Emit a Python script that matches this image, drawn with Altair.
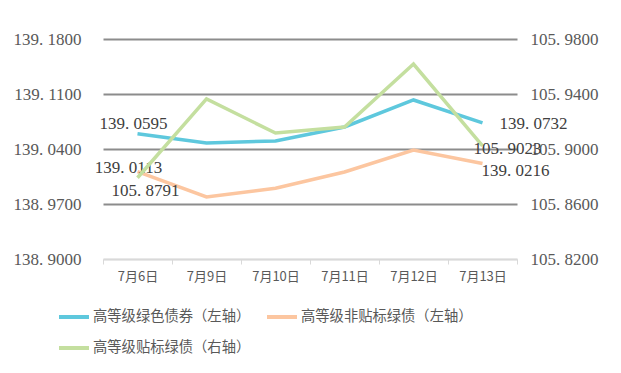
import altair as alt
import pandas as pd

dates = ["7月6日", "7月9日", "7月10日", "7月11日", "7月12日", "7月13日"]
series_names = ["高等级绿色债券（左轴）", "高等级非贴标绿债（左轴）", "高等级贴标绿债（右轴）"]
blue_vals = [139.0595, 139.0476, 139.0502, 139.0680, 139.1024, 139.0732]
orange_vals = [139.0113, 138.9790, 138.9900, 139.0107, 139.0387, 139.0216]
green_vals = [105.8791, 105.9364, 105.9116, 105.9160, 105.9618, 105.9023]
left_ticks = [138.90, 138.97, 139.04, 139.11, 139.18]
right_ticks = [105.82, 105.86, 105.90, 105.94, 105.98]
colors = ["#5ec8dd", "#fcc6a0", "#c4df9f"]

rows = []
for name, vals in zip(series_names, [blue_vals, orange_vals, green_vals]):
    for d, v in zip(dates, vals):
        rows.append({"date": d, "series": name, "value": v})
df = pd.DataFrame(rows)
left_df = df[df.series != series_names[2]]
right_df = df[df.series == series_names[2]]

SERIF = "Liberation Serif"
CJK = "Noto Sans CJK SC"
FS = 17
lab_expr = "replace(format(datum.value, '.4f'), '.', '. ')"

x_enc = alt.X("date:N", sort=dates, title=None,
              scale=alt.Scale(paddingInner=0, paddingOuter=0),
              axis=alt.Axis(labelAngle=0, labelFont=CJK, labelFontSize=13, labelColor="#595959",
                            domainColor="#d9d9d9", domainWidth=1.5, tickColor="#d9d9d9",
                            tickBand="extent", tickSize=5, labelPadding=6))
color_enc = alt.Color("series:N", title=None,
                      scale=alt.Scale(domain=series_names, range=colors),
                      legend=alt.Legend(orient="none", legendX=-46, legendY=261, columns=2,
                                        direction="horizontal",
                                        columnPadding=8, rowPadding=6, labelOffset=2,
                                        symbolType="stroke", symbolSize=900, symbolStrokeWidth=4,
                                        labelFont=CJK, labelFontSize=14.3, labelColor="#595959",
                                        labelLimit=300))

left_scale = alt.Scale(domain=[138.90, 139.18], nice=False, zero=False)
right_scale = alt.Scale(domain=[105.82, 105.98], nice=False, zero=False)

left_line = alt.Chart(left_df).mark_line(strokeWidth=3.5).encode(
    x=x_enc,
    y=alt.Y("value:Q", scale=left_scale, title=None,
            axis=alt.Axis(values=left_ticks, labelExpr=lab_expr, labelFont=SERIF, labelFontSize=FS,
                          labelColor="#595959", domain=False, ticks=False, labelPadding=22,
                          gridColor={"condition": {"test": "datum.value < 138.91", "value": "#d9d9d9"},
                                     "value": "#8c8c8c"},
                          gridWidth=2)),
    color=color_enc,
)

right_line = alt.Chart(right_df).mark_line(strokeWidth=3.5).encode(
    x=x_enc,
    y=alt.Y("value:Q", scale=right_scale, title=None,
            axis=alt.Axis(orient="right", values=right_ticks, labelExpr=lab_expr, labelFont=SERIF,
                          labelFontSize=FS, labelColor="#595959", domain=False, ticks=False,
                          grid=False, labelPadding=13)),
    color=color_enc,
)


def lbl(data, name, date, dx, dy, align, scale):
    return alt.Chart(data).transform_filter(
        (alt.datum.series == name) & (alt.datum.date == date)
    ).transform_calculate(
        txt="replace(format(datum.value, '.4f'), '.', '. ')"
    ).mark_text(font=SERIF, fontSize=FS, color="#404040", align=align, baseline="middle",
                dx=dx, dy=dy).encode(
        x=alt.X("date:N", sort=dates),
        y=alt.Y("value:Q", scale=scale),
        text="txt:N",
    )


left_labels = alt.layer(
    lbl(left_df, series_names[0], "7月6日", -4, -10, "center", left_scale),
    lbl(left_df, series_names[0], "7月13日", 17, 1, "left", left_scale),
    lbl(left_df, series_names[1], "7月6日", -9, -4, "center", left_scale),
    lbl(left_df, series_names[1], "7月13日", -1, 8, "left", left_scale),
)
right_labels = alt.layer(
    lbl(right_df, series_names[2], "7月6日", 8, 13, "center", right_scale),
    lbl(right_df, series_names[2], "7月13日", -9, 3, "left", right_scale),
)

left = alt.layer(left_line, left_labels)
right = alt.layer(right_line, right_labels)

chart = alt.layer(left, right).resolve_scale(y="independent").properties(
    width=414, height=220,
    autosize=alt.AutoSizeParams(type="none"),
    padding={"left": 95, "top": 31, "right": 94, "bottom": 104},
    background="white",
).configure_view(stroke=None)

chart.save("out.html", embed_options={"renderer": "svg", "actions": False})
